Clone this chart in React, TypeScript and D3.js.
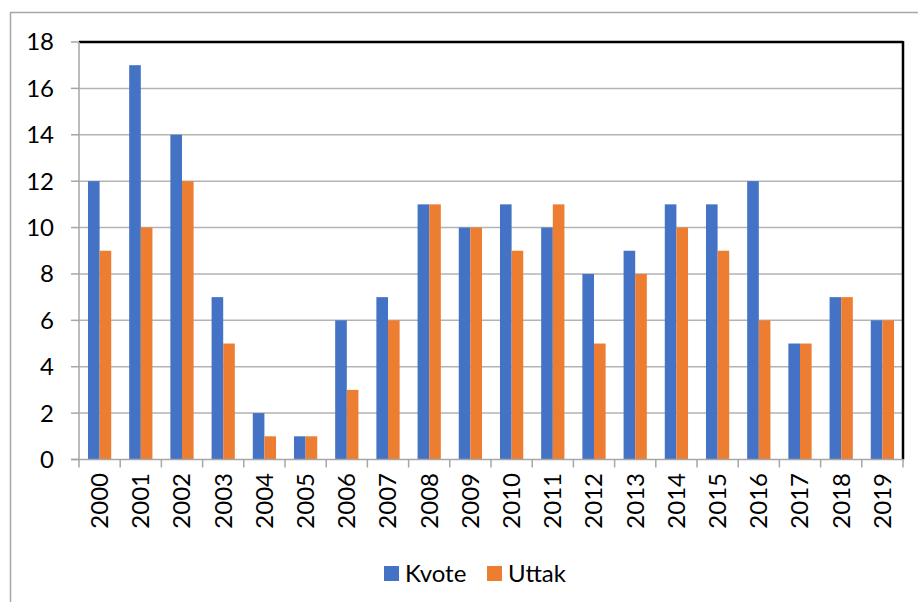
import React from "react";
import * as d3 from "d3";

const years = ["2000","2001","2002","2003","2004","2005","2006","2007","2008","2009","2010","2011","2012","2013","2014","2015","2016","2017","2018","2019"];
const kvote = [12,17,14,7,2,1,6,7,11,10,11,10,8,9,11,11,12,5,7,6];
const uttak = [9,10,12,5,1,1,3,6,11,10,9,11,5,8,10,9,6,5,7,6];
const yTicks = [0,2,4,6,8,10,12,14,16,18];
const seriesNames = ["Kvote","Uttak"];
const colors = ["#4472C4","#ED7D31"];

const W = 918, H = 602;
const left = 79, right = 903, top = 42, bottom = 459.5;
const font = "Lato, 'Open Sans', sans-serif";

export default function App() {
  const x = d3.scaleBand<string>().domain(years).range([left, right]).paddingInner(0).paddingOuter(0);
  const y = d3.scaleLinear().domain([0, 18]).range([bottom, top]);
  const bw = x.bandwidth() * 0.282;
  const series = [kvote, uttak];
  return (
    <svg width={W} height={H} style={{position:"fixed", left:0, top:0, background:"#fff"}} fontFamily={font}>
      <rect x={0} y={0} width={W} height={H} fill="#fff" />
      <line x1={10.5} y1={12} x2={10.5} y2={H} stroke="#a6a6a6" strokeWidth={1.5} />
      <line x1={10} y1={12.5} x2={W} y2={12.5} stroke="#a6a6a6" strokeWidth={1.5} />
      {yTicks.filter(t => t > 0 && t < 18).map(t => (
        <line key={"g"+t} x1={left} x2={right} y1={y(t)} y2={y(t)} stroke="#b3b3b3" strokeWidth={1.5} />
      ))}
      {yTicks.map(t => (
        <g key={"t"+t}>
          <line x1={71} x2={left} y1={y(t)} y2={y(t)} stroke="#a6a6a6" strokeWidth={1.5} />
          <text x={54} y={y(t)} dy="0.35em" textAnchor="end" fontSize={24} fill="#000">{t}</text>
        </g>
      ))}
      {series.map((s, si) => s.map((v, i) => {
        const cx = (x(years[i]) as number) + x.bandwidth() / 2;
        return (
          <rect key={si+"-"+i} x={si === 0 ? cx - bw : cx} y={y(v)} width={bw} height={bottom - y(v)} fill={colors[si]} />
        );
      }))}
      <line x1={left} x2={right} y1={top} y2={top} stroke="#000" strokeWidth={2.5} />
      <line x1={right} x2={right} y1={top - 1} y2={bottom} stroke="#000" strokeWidth={2.5} />
      <line x1={left} x2={left} y1={top} y2={bottom} stroke="#a6a6a6" strokeWidth={1.5} />
      <line x1={left - 8} x2={right} y1={bottom} y2={bottom} stroke="#a6a6a6" strokeWidth={1.5} />
      {years.concat(["end"]).map((yr, i) => {
        const xx = left + i * x.bandwidth();
        return <line key={"xt"+i} x1={xx} x2={xx} y1={bottom} y2={bottom + 8} stroke="#a6a6a6" strokeWidth={1.5} />;
      })}
      {years.map(yr => {
        const cx = (x(yr) as number) + x.bandwidth() / 2;
        return (
          <text key={"xl"+yr} transform={`translate(${cx},${473}) rotate(-90)`} textAnchor="end" dy="0.35em" fontSize={24} fill="#000">{yr}</text>
        );
      })}
      <g>
        <rect x={384} y={566} width={15} height={15} fill={colors[0]} />
        <text x={405} y={573.5} dy="0.35em" fontSize={24} fill="#000">{seriesNames[0]}</text>
        <rect x={487} y={566} width={15} height={15} fill={colors[1]} />
        <text x={508} y={573.5} dy="0.35em" fontSize={24} fill="#000">{seriesNames[1]}</text>
      </g>
    </svg>
  );
}
